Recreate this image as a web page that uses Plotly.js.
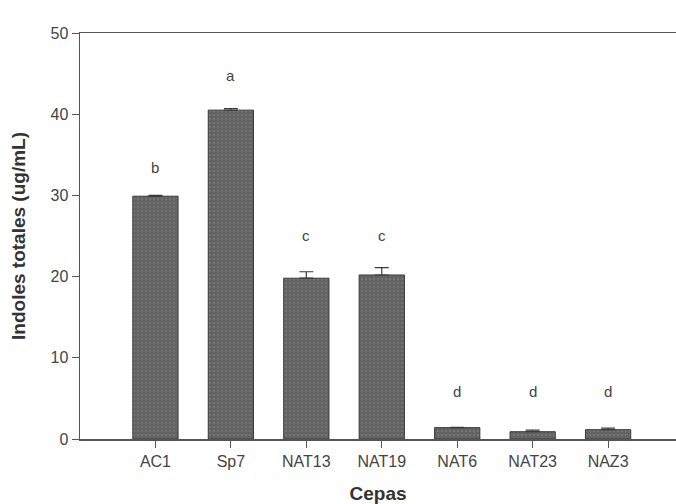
<!DOCTYPE html>
<html>
<head>
<meta charset="utf-8">
<script src="https://cdn.plot.ly/plotly-3.0.1.min.js"></script>
<style>html,body{margin:0;padding:0;background:#fff;}#chart{width:676px;height:504px;}</style>
</head>
<body>
<div id="chart"></div>
<script>
const categories = ["AC1", "Sp7", "NAT13", "NAT19", "NAT6", "NAT23", "NAZ3"];
const values = [29.9, 40.5, 19.8, 20.2, 1.4, 0.9, 1.15];
const errors = [0.1, 0.2, 0.8, 0.9, 0.05, 0.2, 0.2];
const letters = ["b", "a", "c", "c", "d", "d", "d"];
const letterY = [33.4, 44.8, 25.1, 25.1, 5.9, 5.9, 5.9];
const yTicks = [0, 10, 20, 30, 40, 50];

const trace = {
  type: "bar",
  x: categories.map((c, i) => i),
  y: values,
  width: 0.6,
  marker: {
    color: "#656565",
    line: {color: "#3a3a3a", width: 1},
    pattern: {shape: ".", fgcolor: "#747474", bgcolor: "#626262", size: 4, solidity: 0.3}
  },
  error_y: {type: "data", symmetric: false, array: errors, arrayminus: errors.map(() => 0),
            visible: true, color: "#3a3a3a", thickness: 1.2, width: 7},
  hoverinfo: "skip"
};

const annotations = letters.map((t, i) => ({
  x: i, y: letterY[i], xref: "x", yref: "y", text: t, showarrow: false,
  font: {family: "Liberation Sans, Arial, sans-serif", size: 15, color: "#444"}
}));

const layout = {
  width: 676, height: 504,
  margin: {l: 80, r: 0, t: 33, b: 65},
  paper_bgcolor: "#fff", plot_bgcolor: "#fff",
  showlegend: false,
  font: {family: "Liberation Sans, Arial, sans-serif", color: "#444"},
  xaxis: {
    range: [-1, 6.9],
    tickmode: "array",
    tickvals: categories.map((c, i) => i),
    ticktext: categories,
    ticks: "outside", ticklen: 7, tickcolor: "#555", tickwidth: 1,
    showline: true, linecolor: "#555", linewidth: 1.5, mirror: true,
    showgrid: false, zeroline: false,
    tickfont: {size: 16, color: "#444"},
    title: {text: "<b>Cepas</b>", font: {size: 19, color: "#333"}, standoff: 20}
  },
  yaxis: {
    range: [0, 50],
    tickmode: "array",
    tickvals: yTicks,
    ticks: "outside", ticklen: 7, tickcolor: "#555", tickwidth: 1,
    showline: true, linecolor: "#555", linewidth: 1.5,
    showgrid: false, zeroline: false,
    tickfont: {size: 16, color: "#444"},
    title: {text: "<b>Indoles totales (ug/mL)</b>", font: {size: 19, color: "#333"}, standoff: 20}
  },
  annotations: annotations
};

Plotly.newPlot("chart", [trace], layout, {displayModeBar: false, staticPlot: true});
</script>
</body>
</html>
